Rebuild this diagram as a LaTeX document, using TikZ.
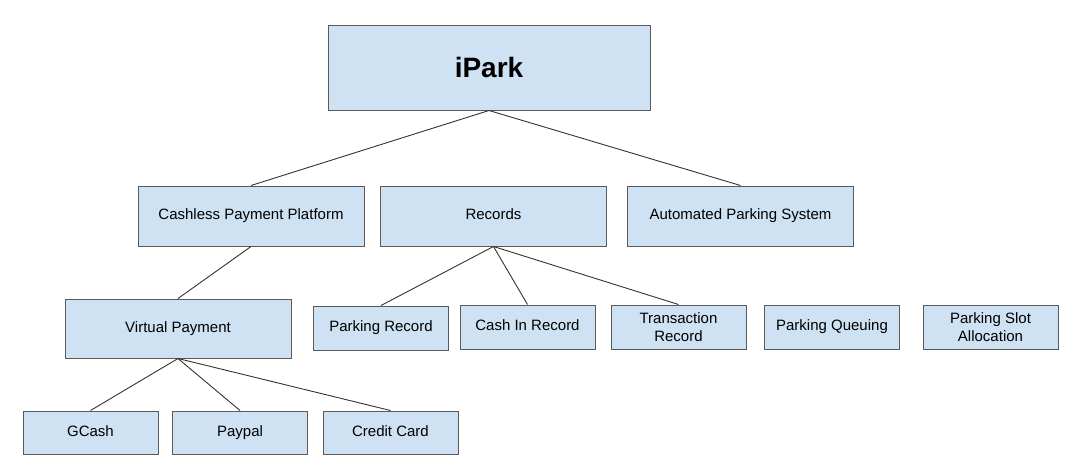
\documentclass[tikz,border=0pt]{standalone}
\usepackage{fontspec}
\setmainfont{Liberation Sans}
\usepackage{tikz}
\usetikzlibrary{positioning}

\definecolor{boxfill}{HTML}{CFE2F3}
\definecolor{boxline}{HTML}{595959}
\definecolor{linkline}{HTML}{333333}

\begin{document}
\begin{tikzpicture}[x=1pt,y=-1pt,thick,
	main node/.style={rectangle,draw=boxline,fill=boxfill,line width=1pt,
		inner sep=0pt,align=center,font=\fontsize{15}{17.5}\selectfont},
	one line/.style={text height=10.8pt,text depth=3.2pt},
	small node/.style={main node,minimum width=135pt,minimum height=44pt},
	mid node/.style={main node,one line,minimum width=226pt,minimum height=60pt},
	every edge/.style={draw=linkline,line width=0.9pt}]
	\useasboundingbox (0,0) rectangle (1077,474);
	
	\node[main node,minimum width=322pt,minimum height=85pt,
		font=\fontsize{28}{32}\selectfont\bfseries] (ipark) at (489,67.5) {iPark};
	
	\node[mid node] (cpp) at (251,216) {Cashless Payment Platform};
	\node[mid node] (rec) at (493.5,216) {Records};
	\node[mid node] (aps) at (740.5,216) {Automated Parking System};
	
	\node[mid node,minimum height=59pt] (vp) at (178,328.5) {Virtual Payment};
	\node[small node,one line] (prec) at (381,328) {Parking Record};
	\node[small node,one line] (cir) at (527.5,327) {Cash In Record};
	\node[small node] (trec) at (678.5,327) {Transaction\\Record};
	\node[small node,one line] (pq) at (832,327) {Parking Queuing};
	\node[small node] (psa) at (990.5,327) {Parking Slot\\Allocation};
	
	\node[small node,one line,minimum height=43pt] (gcash) at (90.5,432.5) {GCash};
	\node[small node,one line,minimum height=43pt] (paypal) at (240,432.5) {Paypal};
	\node[small node,one line,minimum height=43pt] (cc) at (390.5,432.5) {Credit Card};
	
	\path
	(ipark.south) edge (cpp.north)
	(ipark.south) edge (aps.north)
	(cpp.south) edge (vp.north)
	(rec.south) edge (prec.north)
	(rec.south) edge (cir.north)
	(rec.south) edge (trec.north)
	(vp.south) edge (gcash.north)
	(vp.south) edge (paypal.north)
	(vp.south) edge (cc.north);
\end{tikzpicture}
\end{document}
